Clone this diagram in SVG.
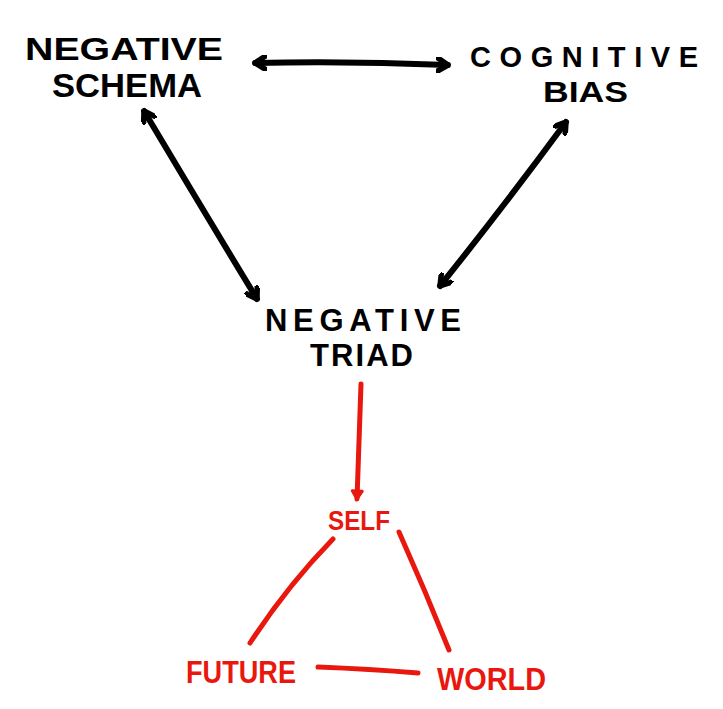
<svg xmlns="http://www.w3.org/2000/svg" width="723" height="709" viewBox="0 0 723 709">
<defs>
<style>
.t{font-family:"Liberation Sans",Arial,sans-serif;font-weight:bold;}
.k{fill:#000;}
.r{fill:#e8180f;}
.lk{stroke:#000;stroke-width:6;fill:none;stroke-linecap:round;stroke-linejoin:round;}
.lr{stroke:#e8180f;stroke-width:5;fill:none;stroke-linecap:round;stroke-linejoin:round;}
</style>
<marker id="ak" viewBox="-12 -8 14 16" markerWidth="14" markerHeight="16" refX="0" refY="0" orient="auto-start-reverse" markerUnits="userSpaceOnUse">
<path d="M-11,-7 L0,0 L-11,7" fill="none" stroke="#000" stroke-width="5.5" stroke-linecap="round" stroke-linejoin="round"/>
</marker>
<marker id="ar" viewBox="-10 -7 12 14" markerWidth="12" markerHeight="14" refX="0" refY="0" orient="auto" markerUnits="userSpaceOnUse">
<path d="M-8,-5 L0,0 L-8,5 Z" fill="#e8180f" stroke="#e8180f" stroke-width="3" stroke-linejoin="round"/>
</marker>
</defs>
<rect width="723" height="709" fill="#fff"/>
<g id="connectors">
<path class="lk" d="M255,63 Q350,61 448,65" marker-start="url(#ak)" marker-end="url(#ak)"/>
<path class="lk" d="M144,111 Q200,205 257,299" marker-start="url(#ak)" marker-end="url(#ak)"/>
<path class="lk" d="M566,122 Q505,205 440,286" marker-start="url(#ak)" marker-end="url(#ak)"/>
<path class="lr" d="M361,384 Q359,440 357,499" marker-end="url(#ar)"/>
<path class="lr" d="M333,539 Q288,585 250,643"/>
<path class="lr" d="M399,532 Q425,590 449,650"/>
<path class="lr" d="M318,667 Q370,669 418,673"/>
</g>
<g id="negative-schema">
<text class="t k" x="25" y="60" font-size="32" textLength="198" lengthAdjust="spacingAndGlyphs">NEGATIVE</text>
<text class="t k" x="52" y="97" font-size="33" textLength="150" lengthAdjust="spacingAndGlyphs">SCHEMA</text>
</g>
<g id="cognitive-bias">
<text class="t k" x="470" y="67" font-size="29" textLength="228" lengthAdjust="spacing">COGNITIVE</text>
<text class="t k" x="543" y="102" font-size="30" textLength="85" lengthAdjust="spacingAndGlyphs">BIAS</text>
</g>
<g id="negative-triad">
<text class="t k" x="265" y="331" font-size="31" textLength="196" lengthAdjust="spacing">NEGATIVE</text>
<text class="t k" x="310" y="366" font-size="31" textLength="103" lengthAdjust="spacing">TRIAD</text>
</g>
<g id="self">
<text class="t r" x="328" y="530" font-size="28" textLength="62" lengthAdjust="spacingAndGlyphs">SELF</text>
</g>
<g id="future">
<text class="t r" x="186" y="683" font-size="32" textLength="110" lengthAdjust="spacingAndGlyphs">FUTURE</text>
</g>
<g id="world">
<text class="t r" x="437" y="690" font-size="32" textLength="109" lengthAdjust="spacingAndGlyphs">WORLD</text>
</g>
</svg>
